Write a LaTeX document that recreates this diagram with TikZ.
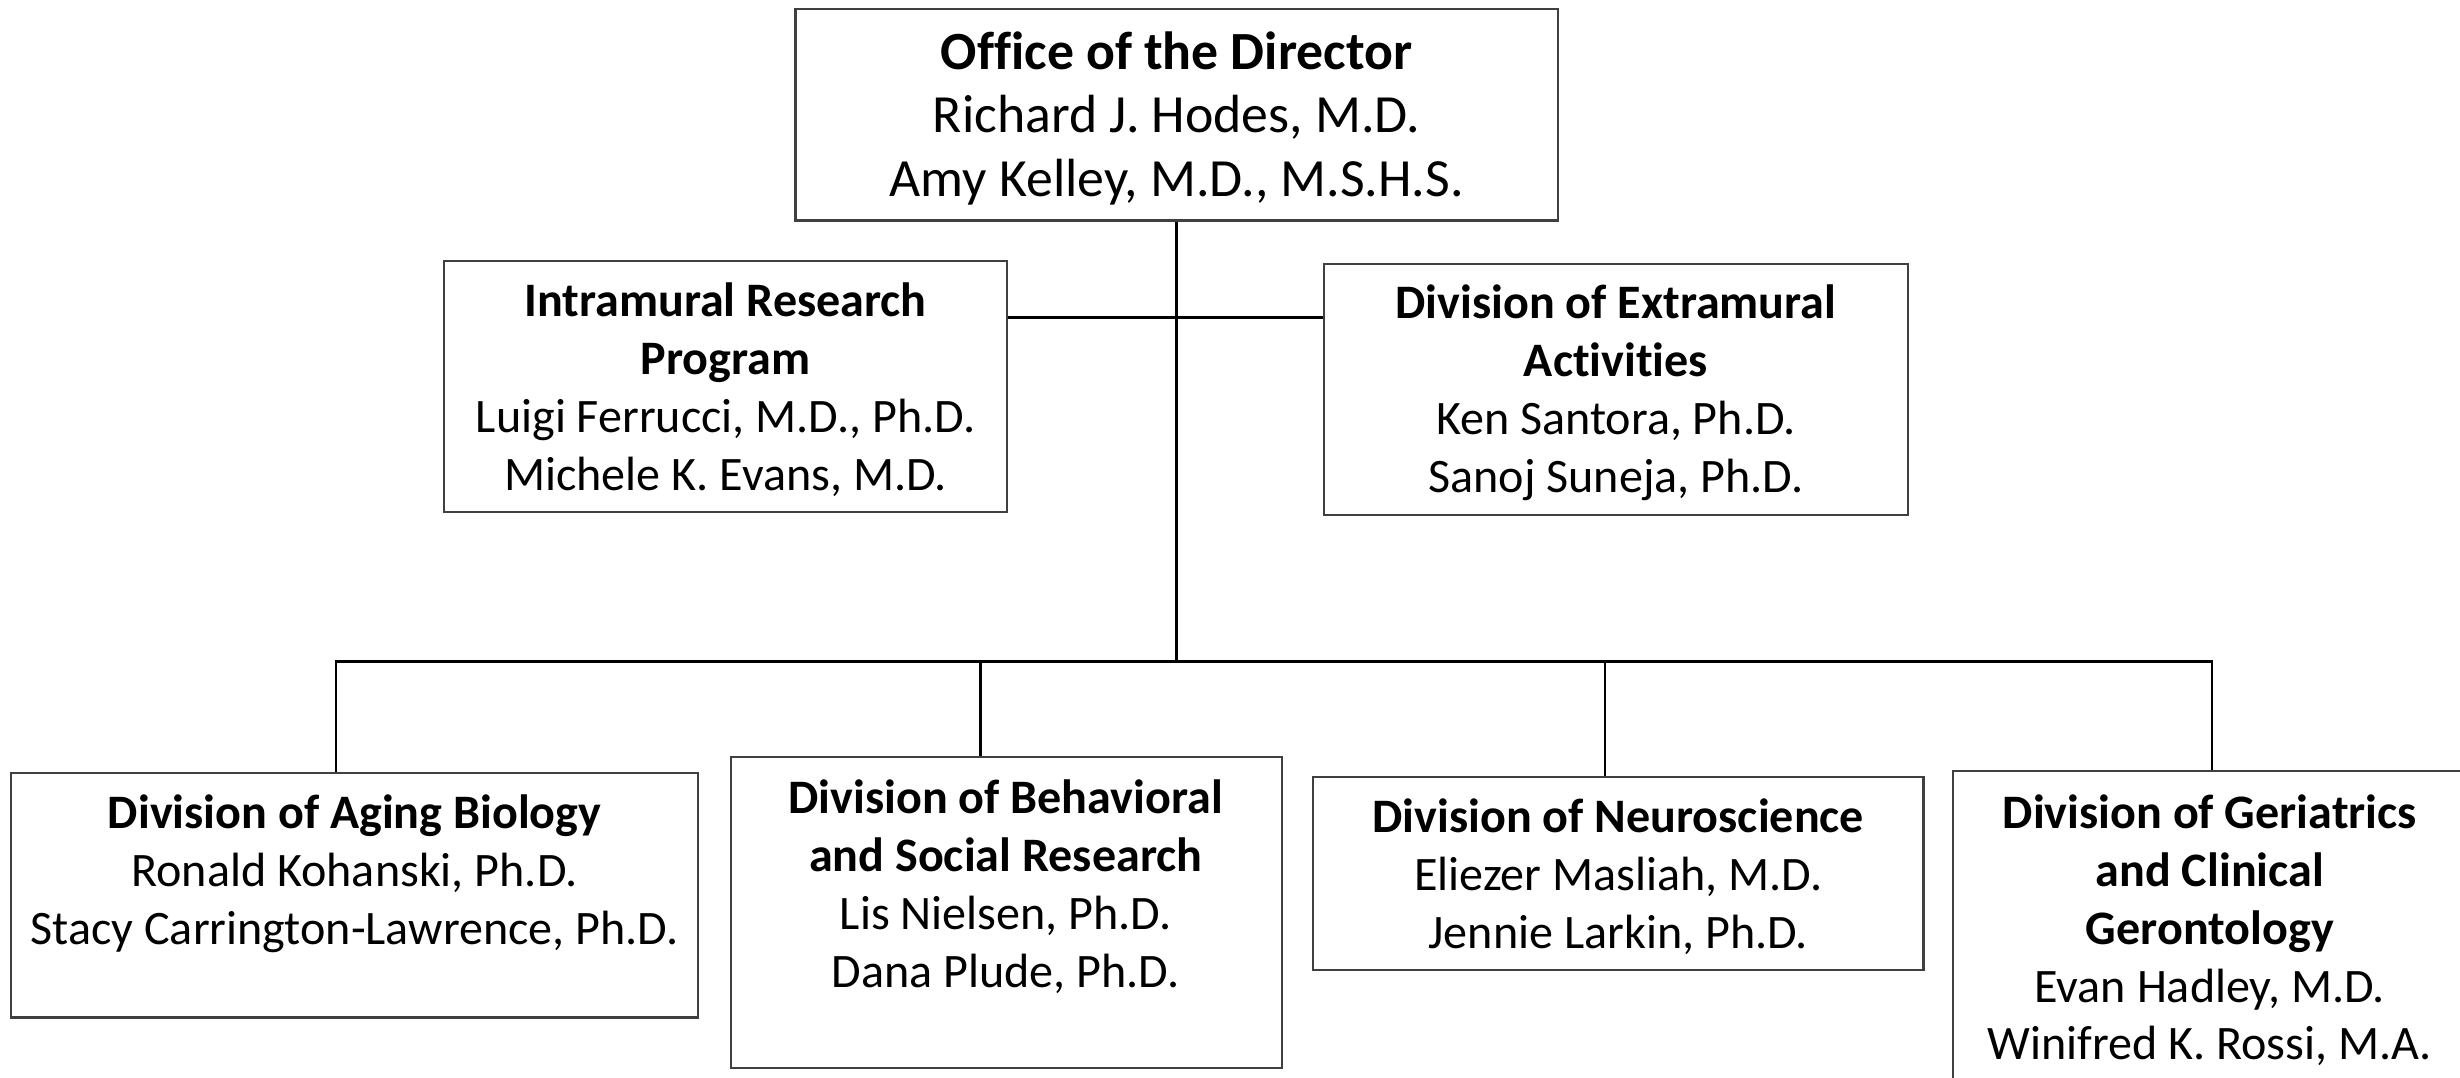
\documentclass[tikz,border=0pt]{standalone}
\usepackage{fontspec}
\setmainfont{Carlito}[Ligatures=NoCommon]
\tikzset{
  unit/.style={draw=black!75, line width=0.4pt, inner sep=0pt},
  txt/.style={align=center, inner sep=0pt, font=\fontsize{8.72}{10.5}\selectfont},
  link/.style={line width=0.45pt}
}

\begin{document}
\begin{tikzpicture}
        \path[use as bounding box] (0,0) rectangle (15.68,6.865);

        \node [unit, minimum width=4.86cm, minimum height=1.35cm] (dir) at (7.50, 6.135) {};
        \node [unit, minimum width=3.59cm, minimum height=1.60cm] (irp) at (4.625, 4.40) {};
        \node [unit, minimum width=3.72cm, minimum height=1.60cm] (dea) at (10.30, 4.38) {};
        \node [unit, minimum width=4.38cm, minimum height=1.56cm] (bio) at (2.26, 1.16) {};
        \node [unit, minimum width=3.51cm, minimum height=1.98cm] (bsr) at (6.415, 1.05) {};
        \node [unit, minimum width=3.89cm, minimum height=1.23cm] (neu) at (10.315, 1.295) {};
        \node [unit, minimum width=3.27cm, minimum height=2.19cm] (gcg) at (14.085, 0.855) {};

        \node [txt, font=\fontsize{9.75}{11.6}\selectfont] (dir-t) at (7.50, 6.11) {\textbf{Office of the Director}\\Richard J. Hodes, M.D.\\Amy Kelley, M.D., M.S.H.S.};
        \node [txt] (irp-t) at (4.625, 4.38) {\textbf{Intramural Research}\\\textbf{Program}\\Luigi Ferrucci, M.D., Ph.D.\\Michele K. Evans, M.D.};
        \node [txt] (dea-t) at (10.30, 4.36) {\textbf{Division of Extramural}\\\textbf{Activities}\\Ken Santora, Ph.D.\\Sanoj Suneja, Ph.D.};
        \node [txt] (bio-t) at (2.26, 1.295) {\textbf{Division of Aging Biology}\\Ronald Kohanski, Ph.D.\\Stacy Carrington-Lawrence, Ph.D.};
        \node [txt] (bsr-t) at (6.41, 1.215) {\textbf{Division of Behavioral}\\\textbf{and Social Research}\\Lis Nielsen, Ph.D.\\Dana Plude, Ph.D.};
        \node [txt] (neu-t) at (10.315, 1.275) {\textbf{Division of Neuroscience}\\Eliezer Masliah, M.D.\\Jennie Larkin, Ph.D.};
        \node [txt] (gcg-t) at (14.085, 0.935) {\textbf{Division of Geriatrics}\\\textbf{and Clinical}\\\textbf{Gerontology}\\Evan Hadley, M.D.\\Winifred K. Rossi, M.A.};

        \coordinate (bus) at (7.50, 2.65);

        \draw [link] (dir.south) -- (bus);
        \draw [link] ([yshift=4.4mm]irp.east) -- ([yshift=4.4mm]irp.east -| dea.west);
        \draw [link] ([xshift=-1.2mm]bio.north) |- (bus) -| ([xshift=0.15mm]gcg.north);
        \draw [link] ([xshift=-1.65mm]bsr.north) -- ([xshift=-1.65mm]bsr.north |- bus);
        \draw [link] ([xshift=-0.85mm]neu.north) -- ([xshift=-0.85mm]neu.north |- bus);
      \end{tikzpicture}
\end{document}
